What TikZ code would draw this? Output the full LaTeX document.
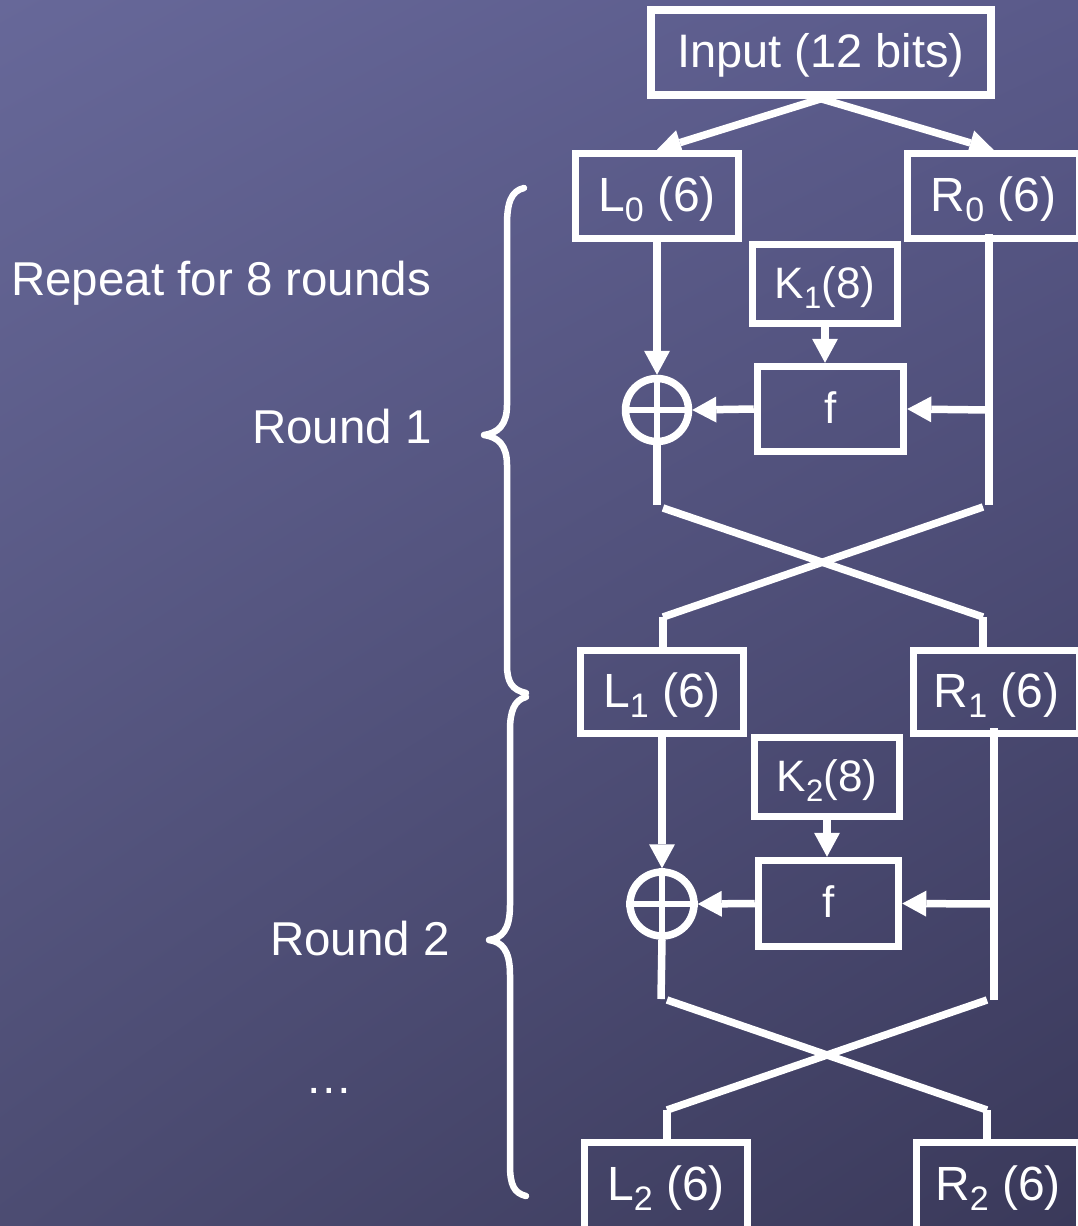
\documentclass[tikz,border=0pt]{standalone}
\usepackage{fontspec}
\setmainfont{Liberation Sans}
\usetikzlibrary{arrows.meta,calc,shadings}
\definecolor{bgA}{RGB}{103,104,153}
\definecolor{bgB}{RGB}{90,90,138}
\definecolor{bgC}{RGB}{76,76,114}
\definecolor{bgD}{RGB}{58,57,90}
\newcommand\sbs[1]{\raisebox{-10pt}{\fontsize{34}{34}\selectfont #1}}
\newcommand\sbk[1]{\raisebox{-10pt}{\fontsize{31}{31}\selectfont #1}}
\begin{document}
\begin{tikzpicture}[x=1pt,y=-1pt,
  box/.style={draw=white, line width=7.5pt, inner sep=0pt, text=white,
    font=\fontsize{48}{50}\selectfont, text height=30pt, text depth=0pt},
  kbox/.style={box, font=\fontsize{44}{46}\selectfont, text height=28pt},
  cut/.style={minimum height=100pt, text depth=15pt},
  xor/.style={circle, draw=white, line width=7.5pt, minimum size=63pt, inner sep=0pt},
  ln/.style={draw=white, line width=7.5pt},
  arr/.style={draw=white, line width=7.5pt, -{Triangle[width=26pt 0, length=24pt 0, line width=0pt]}},
  brace/.style={draw=white, line width=6.5pt, line cap=round, line join=round},
  lbl/.style={text=white, font=\fontsize{47.5}{50}\selectfont, inner sep=0pt}]
\useasboundingbox (0pt,0pt) rectangle (1078pt,-1226pt);
\shade[upper left=bgA, upper right=bgB, lower left=bgC, lower right=bgD]
  (0pt,0pt) rectangle (1078pt,-1226pt);

% boxes
\node[box, font=\fontsize{47}{50}\selectfont, minimum width=340pt, minimum height=85pt] (in) at (821,52.5) {Input (12 bits)};
\node[box, minimum width=163pt, minimum height=85pt] (L0) at (657,196) {L\sbs{0} (6)};
\node[box, minimum width=172pt, minimum height=85pt] (R0) at (993.5,196) {R\sbs{0} (6)};
\node[kbox, minimum width=145pt, minimum height=79pt] (K1) at (825,284) {K\sbk{1}(8)};
\node[kbox, minimum width=146pt, minimum height=85pt] (f1) at (830.5,409) {f};
\node[xor] (X1) at (657,410) {};
\draw[ln, line width=6.5pt] (X1.north) -- (X1.south) (X1.west) -- (X1.east);

\node[box, minimum width=163pt, minimum height=83pt] (L1) at (662,692) {L\sbs{1} (6)};
\node[box, minimum width=166pt, minimum height=83pt] (R1) at (996.5,692) {R\sbs{1} (6)};
\node[kbox, minimum width=145pt, minimum height=79pt] (K2) at (827,777) {K\sbk{2}(8)};
\node[kbox, minimum width=140pt, minimum height=86pt] (f2) at (828.5,903.5) {f};
\node[xor, minimum size=64pt] (X2) at (662,904) {};
\draw[ln, line width=6.5pt] (X2.north) -- (X2.south) (X2.west) -- (X2.east);

\node[box, cut, minimum width=163pt] (L2) at (666,1192.5) {L\sbs{2} (6)};
\node[box, cut, minimum width=163pt] (R2) at (998,1192.5) {R\sbs{2} (6)};

% coordinates
\coordinate (r0a) at (989,234);
\coordinate (r0m) at (989,410);
\coordinate (r0b) at (989,505);
\coordinate (l0b) at (657,505);
\coordinate (c1a) at (663,508);
\coordinate (c1b) at (983,617);
\coordinate (c1c) at (983,507);
\coordinate (c1d) at (663,617);

\coordinate (r1a) at (994,728);
\coordinate (r1m) at (994,904);
\coordinate (r1b) at (994,1000);
\coordinate (l1b) at (661,999);
\coordinate (c2a) at (667,1000);
\coordinate (c2b) at (987,1110);
\coordinate (c2c) at (987,1000);
\coordinate (c2d) at (667,1110);

% round 0 split
\draw[arr] (in.south) -- (L0.north);
\draw[arr] (in.south) -- (R0.north);

% round 1
\draw[arr] (L0.south) -- (X1.north);
\draw[ln] (X1.south) -- (l0b);
\draw[ln] (r0a) -- (r0b);
\draw[arr] (r0m) -- (f1.east);
\draw[arr] (f1.west) -- (X1.east);
\draw[arr] (K1.south) -- (K1.south |- f1.north);
\draw[ln] (c1a) -- (c1b);
\draw[ln] (c1c) -- (c1d);
\draw[ln] (c1d) -- (c1d |- L1.north);
\draw[ln] (c1b) -- (c1b |- R1.north);

% round 2
\draw[arr] (L1.south) -- (X2.north);
\draw[ln] (X2.south) -- (l1b);
\draw[ln] (r1a) -- (r1b);
\draw[arr] (r1m) -- (f2.east);
\draw[arr] (f2.west) -- (X2.east);
\draw[arr] (K2.south) -- (K2.south |- f2.north);
\draw[ln] (c2a) -- (c2b);
\draw[ln] (c2c) -- (c2d);
\draw[ln] (c2d) -- (c2d |- L2.north);
\draw[ln] (c2b) -- (c2b |- R2.north);

% braces
\draw[brace] (524,188) .. controls (511,191) and (507,203) .. (507,225)
  -- (507,405) .. controls (507,425) and (498,433) .. (484,435)
  .. controls (498,437) and (507,445) .. (507,465)
  -- (507,665) .. controls (507,682) and (512,690) .. (526,693);
\draw[brace] (526,697) .. controls (514,700) and (510,712) .. (510,730)
  -- (510,905) .. controls (510,930) and (502,938) .. (489,940)
  .. controls (502,942) and (510,950) .. (510,975)
  -- (510,1165) .. controls (510,1185) and (514,1193) .. (526,1196);

% labels
\node[lbl, anchor=base west] (rep) at (11,295) {Repeat for 8 rounds};
\node[lbl, anchor=base east] (rd1) at (432,443) {Round 1};
\node[lbl, anchor=base east] (rd2) at (450,955) {Round 2};
\node[lbl, anchor=base] (dots) at (329,1093) {…};
\end{tikzpicture}
\end{document}
